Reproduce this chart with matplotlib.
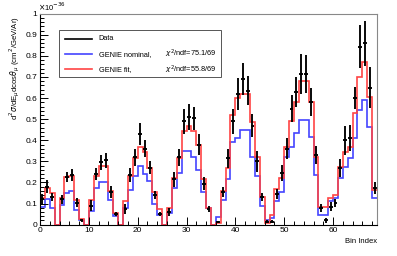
import numpy as np
import matplotlib
matplotlib.use("Agg")
import matplotlib.pyplot as plt
from matplotlib.lines import Line2D
from matplotlib.patches import Rectangle
from matplotlib.ticker import MultipleLocator

plt.rcParams["font.family"] = ["Liberation Sans", "DejaVu Sans"]

# ── data (units of 1e-36 cm^2/GeV/Ar) ──────────────────────────────────────
nan = np.nan
data = [0.12, 0.18, 0.13, nan, 0.12, 0.225, 0.235, 0.105, 0.02, nan,
        0.09, 0.24, 0.295, 0.305, 0.155, 0.05, nan, 0.075, 0.235, 0.32,
        0.43, 0.36, 0.27, 0.14, 0.05, nan, 0.06, 0.215, 0.32, 0.49,
        0.51, 0.505, 0.38, 0.195, 0.074, nan, 0.012, 0.155, 0.315, 0.49,
        0.62, 0.69, 0.635, 0.47, 0.30, 0.13, 0.015, 0.015, 0.145, 0.245,
        0.36, 0.55, 0.628, 0.713, 0.713, 0.583, 0.33, 0.08, 0.02, 0.086,
        0.103, 0.27, 0.40, 0.41, 0.60, 0.844, 0.86, 0.65, 0.173]
data_err = [0.025, 0.03, 0.02, 0, 0.02, 0.025, 0.03, 0.02, 0.005, 0,
            0.025, 0.03, 0.035, 0.035, 0.03, 0.01, 0, 0.025, 0.035, 0.04,
            0.05, 0.04, 0.03, 0.02, 0.008, 0, 0.02, 0.035, 0.04, 0.06,
            0.06, 0.055, 0.05, 0.03, 0.015, 0, 0.006, 0.025, 0.045, 0.06,
            0.075, 0.075, 0.07, 0.055, 0.05, 0.02, 0.006, 0.006, 0.025, 0.04,
            0.05, 0.063, 0.071, 0.095, 0.09, 0.067, 0.043, 0.02, 0.01, 0.02,
            0.02, 0.043, 0.07, 0.063, 0.051, 0.103, 0.107, 0.099, 0.028]
genie_nominal = [0.082, 0.12, 0.08, 0, 0.095, 0.15, 0.158, 0.07, 0.024, 0,
                 0.065, 0.174, 0.2, 0.2, 0.118, 0.04, 0, 0.08, 0.165, 0.23,
                 0.277, 0.24, 0.205, 0.1, 0.045, 0, 0.055, 0.172, 0.244, 0.35,
                 0.35, 0.32, 0.26, 0.155, 0.078, 0, 0.035, 0.115, 0.215, 0.39,
                 0.41, 0.45, 0.45, 0.32, 0.23, 0.09, 0.02, 0.03, 0.11, 0.157,
                 0.32, 0.37, 0.433, 0.496, 0.496, 0.417, 0.235, 0.045, 0.045, 0.11,
                 0.127, 0.22, 0.273, 0.315, 0.41, 0.544, 0.59, 0.465, 0.125]
genie_fit = [0.125, 0.175, 0.15, 0, 0.127, 0.225, 0.23, 0.115, 0.028, 0,
             0.118, 0.23, 0.28, 0.28, 0.16, 0.055, 0, 0.11, 0.23, 0.315,
             0.37, 0.345, 0.27, 0.155, 0.075, 0, 0.08, 0.22, 0.315, 0.445,
             0.47, 0.445, 0.38, 0.215, 0.08, 0, 0.01, 0.16, 0.27, 0.52,
             0.6, 0.62, 0.62, 0.485, 0.32, 0.13, 0.01, 0.045, 0.17, 0.22,
             0.37, 0.49, 0.58, 0.68, 0.68, 0.583, 0.32, 0.085, 0.085, 0.125,
             0.14, 0.275, 0.345, 0.37, 0.53, 0.70, 0.773, 0.607, 0.165]
chi2_nominal = "75.1/69"
chi2_fit = "55.8/69"

nbins = len(data)
edges = np.arange(nbins + 1)
centers = edges[:-1] + 0.5

fig = plt.figure(figsize=(3.97, 2.56), dpi=100)
ax = fig.add_axes([0.1008, 0.1223, 0.8488, 0.8242])

ax.stairs(genie_nominal, edges, baseline=None, color="#4444ff", lw=1.2)
ax.stairs(genie_fit, edges, baseline=None, color="#ff4444", lw=1.2)
ax.errorbar(centers, data, xerr=0.4, yerr=data_err, fmt="none",
            ecolor="black", elinewidth=1.35, capsize=0)

ax.set_xlim(0, nbins)
ax.set_ylim(0, 1.0)
ax.xaxis.set_major_locator(MultipleLocator(10))
ax.xaxis.set_minor_locator(MultipleLocator(2))
ax.yaxis.set_major_locator(MultipleLocator(0.1))
ax.yaxis.set_minor_locator(MultipleLocator(0.02))
ax.yaxis.set_major_formatter(plt.FuncFormatter(
    lambda v, p: f"{v:.0f}" if abs(v - round(v)) < 1e-9 else f"{v:.1f}"))
ax.tick_params(which="both", direction="in", top=False, right=False,
               labelsize=6, pad=2, width=0.7)
ax.tick_params(which="major", length=6)
ax.tick_params(which="minor", length=3)
for s in ("left", "bottom"):
    ax.spines[s].set_color("black")
for s in ("top", "right"):
    ax.spines[s].set_color("#888888")
for s in ax.spines.values():
    s.set_linewidth(0.8)

fig.text(0.02, 0.735, r"d$^{2}\sigma$/dE$_{\mu}$dcos$\theta_{\mu}$ (cm$^{2}$/GeV/Ar)",
         rotation=90, fontsize=5.6, ha="left", va="center")
fig.text(0.095, 0.975, r"$\times$10$^{-36}$", fontsize=5.5, ha="left", va="center")
fig.text(0.95, 0.058, "Bin Index", fontsize=5.5, ha="right", va="center")

# legend drawn by hand (two text columns)
fig.patches.append(Rectangle((0.149, 0.701), 0.407, 0.182, transform=fig.transFigure,
                             fill=True, facecolor="white", edgecolor="#555555", lw=0.7))
entries = [("Data", "black", None), ("GENIE nominal,", "#4444ff", chi2_nominal),
           ("GENIE fit,", "#ff4444", chi2_fit)]
for (label, col, chi), yy in zip(entries, [0.848, 0.788, 0.729]):
    fig.lines.append(Line2D([0.164, 0.232], [yy, yy], transform=fig.transFigure,
                            color=col, lw=1.2))
    fig.text(0.249, yy, label, fontsize=5.3, va="center", ha="left")
    if chi:
        fig.text(0.416, yy, r"$\chi^{2}$/ndf=" + chi, fontsize=5.3,
                 va="center", ha="left")

fig.savefig("out.png", dpi=100)
